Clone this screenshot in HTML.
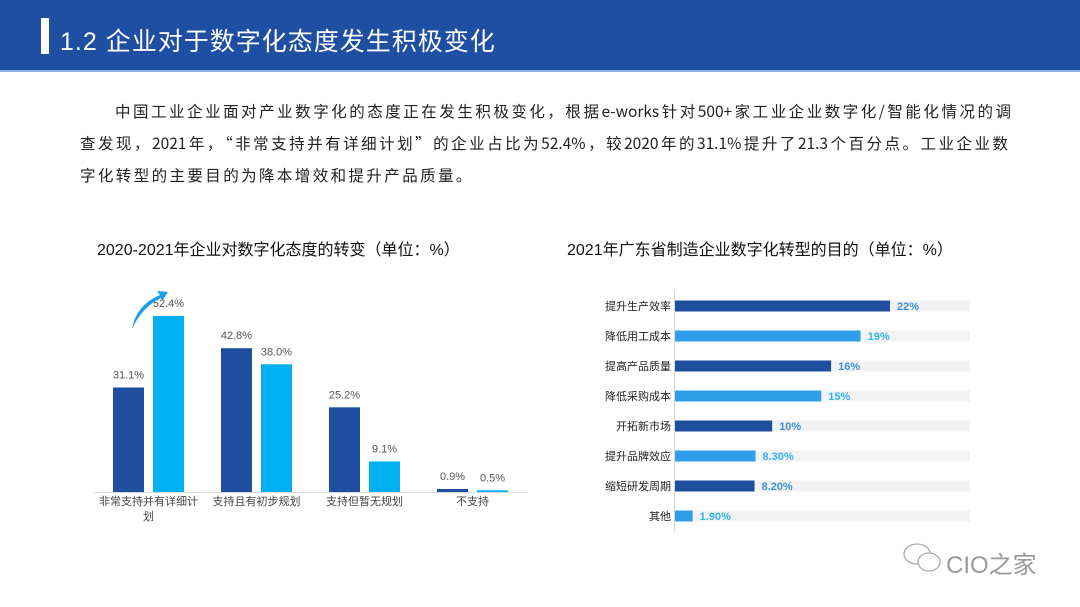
<!DOCTYPE html>
<html><head><meta charset="utf-8"><style>
body{margin:0;width:1080px;height:607px;background:#fff;position:relative;overflow:hidden;font-family:"Liberation Sans","Noto Sans CJK SC",sans-serif}
.hdr{position:absolute;left:0;top:0;width:1080px;height:70px;background:#1f4fa2;border-bottom:2px solid #8fb0df}
.hbar{position:absolute;left:41px;top:18px;width:8px;height:36px;background:#fff}
.htitle{position:absolute;left:60px;top:22px;color:#fff;font-size:25px;letter-spacing:1px;white-space:nowrap}
.pl{position:absolute;font-size:15.5px;color:#222;white-space:nowrap;text-align:justify;text-align-last:justify;font-family:"Noto Sans CJK SC",sans-serif;line-height:20px}
.ct{position:absolute;top:236px;font-size:16px;color:#111;white-space:nowrap}
svg{position:absolute;left:0;top:0}
.wm{position:absolute;left:946px;top:545px;font-size:24px;color:#999;white-space:nowrap}
</style></head><body>
<div class="hdr"><div class="hbar"></div><div class="htitle">1.2 企业对于数字化态度发生积极变化</div></div>
<div>
<div class="pl" style="left:115px;top:101px;width:896px">中国工业企业面对产业数字化的态度正在发生积极变化，根据e-works针对500+家工业企业数字化/智能化情况的调</div>
<div class="pl" style="left:80px;top:133px;width:928px">查发现，2021年，“非常支持并有详细计划”的企业占比为52.4%，较2020年的31.1%提升了21.3个百分点。工业企业数</div>
<div class="pl" style="left:80px;top:165px;text-align-last:left;letter-spacing:2.4px">字化转型的主要目的为降本增效和提升产品质量。</div>
</div>
<div class="ct" style="left:97px">2020-2021年企业对数字化态度的转变（单位：%）</div>
<div class="ct" style="left:567px">2021年广东省制造企业数字化转型的目的（单位：%）</div>
<svg id="chart" width="1080" height="607"></svg>
<div class="wm">CIO之家</div>
<svg width="1080" height="607" style="pointer-events:none">
<ellipse cx="917" cy="554" rx="13" ry="10" fill="none" stroke="#aaa" stroke-width="1.3"/>
<ellipse cx="929" cy="562" rx="11" ry="9" fill="#fff" stroke="#aaa" stroke-width="1.3"/>
</svg>
<script>
const cats=["非常支持并有详细计划","支持且有初步规划","支持但暂无规划","不支持"];
const v2020=[31.1,42.8,25.2,0.9];
const v2021=[52.4,38.0,9.1,0.5];
const labels2020=["31.1%","42.8%","25.2%","0.9%"];
const labels2021=["52.4%","38.0%","9.1%","0.5%"];
const goals=["提升生产效率","降低用工成本","提高产品质量","降低采购成本","开拓新市场","提升品牌效应","缩短研发周期","其他"];
const goalVals=[22,19,16,15,10,8.3,8.2,1.9];
const goalLabels=["22%","19%","16%","15%","10%","8.30%","8.20%","1.90%"];
const NS="http://www.w3.org/2000/svg";
const svg=document.getElementById('chart');
function mk(t,a,txt){const e=document.createElementNS(NS,t);for(const k in a)e.setAttribute(k,a[k]);if(txt!=null)e.textContent=txt;svg.appendChild(e);return e;}
const base=492, yS=v=>base-v*3.36, gx=i=>113+i*108;
let ax=mk('line',{x1:93,y1:base+0.5,x2:527,y2:base+0.5,stroke:'#d9d9d9'});


cats.forEach((c,i)=>{
  const x=gx(i);
  let b=mk('rect',{x:x,y:yS(v2020[i]),width:31,height:base-yS(v2020[i]),fill:'#1f4e9f'});
  
  
  let b2=mk('rect',{x:x+40,y:yS(v2021[i]),width:31,height:base-yS(v2021[i]),fill:'#00b0f0'});
  
  
  let t=mk('text',{x:x+15.5,y:yS(v2020[i])-9,'text-anchor':'middle','font-size':11,fill:'#555'},labels2020[i]);
  
  
  let t2=mk('text',{x:x+55.5,y:yS(v2021[i])-9,'text-anchor':'middle','font-size':11,fill:'#555'},labels2021[i]);
  
  
  const cx=x+35.5;
  if(i===0){
    let a=mk('text',{x:cx,y:base+13,'text-anchor':'middle','font-size':11,fill:'#444'},"非常支持并有详细计");
    
    
    let a2=mk('text',{x:cx,y:base+28,'text-anchor':'middle','font-size':11,fill:'#444'},"划");
    
    
  } else {
    let a=mk('text',{x:cx,y:base+13,'text-anchor':'middle','font-size':11,fill:'#444'},c);
    
    
  }
});
let arr=mk('path',{d:'M132,329 Q136,305 160,295 L157,291 L168,292 L162,301 L161,298 Q142,307 132,329Z',fill:'#1a9ee6'});


const x0=674, xS=v=>x0+v*9.82, rowY=i=>306+i*30;
let ya=mk('line',{x1:x0+0.5,y1:291,x2:x0+0.5,y2:532,stroke:'#d9d9d9'});


goals.forEach((g,i)=>{
  const y=rowY(i), col=i%2?'#2e9ee8':'#1f4e9f';
  let bg=mk('rect',{x:x0+1,y:y-5.5,width:295,height:11,fill:'#f2f2f2'});
  
  
  let b=mk('rect',{x:x0+1,y:y-5.5,width:xS(goalVals[i])-x0-1,height:11,fill:col});
  
  
  let l=mk('text',{x:x0-3,y:y+4,'text-anchor':'end','font-size':11,fill:'#222'},g);
  
  
  let v=mk('text',{x:xS(goalVals[i])+7,y:y+4,'font-size':11,'font-weight':'bold',fill:i%2?'#33b5f0':'#3a8fdc'},goalLabels[i]);
  
  
});
</script>
</body></html>
